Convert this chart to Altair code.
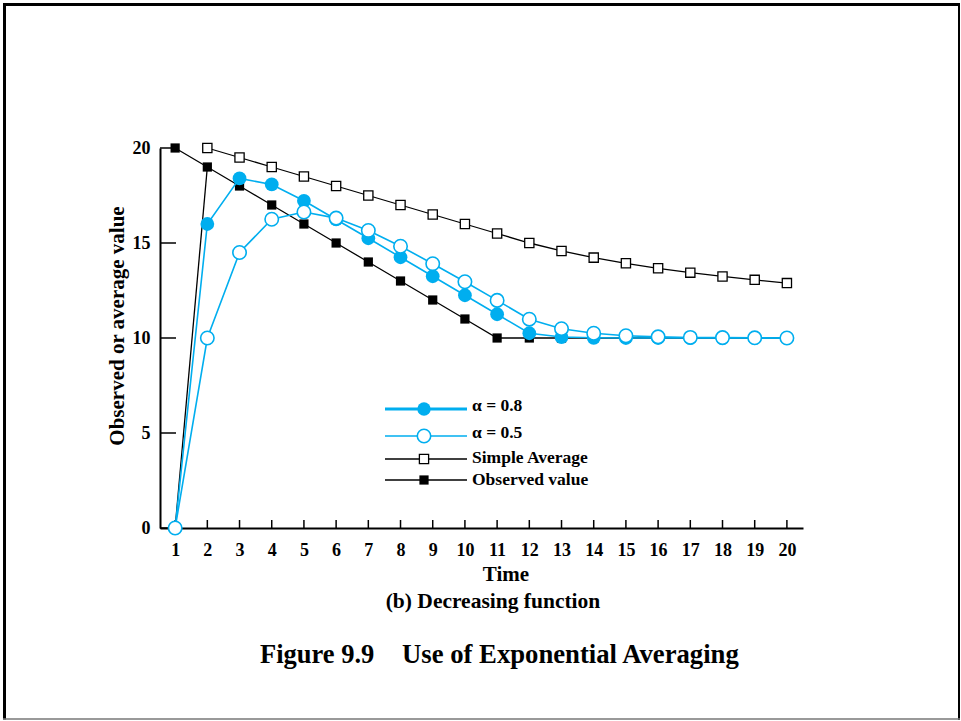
import altair as alt
import pandas as pd

# ---- data -------------------------------------------------------------
time = list(range(1, 21))
observed = [20, 19, 18, 17, 16, 15, 14, 13, 12, 11, 10, 10, 10, 10, 10, 10, 10, 10, 10, 10]
simple_time = list(range(2, 21))
simple_avg = [20.0, 19.5, 19.0, 18.5, 18.0, 17.5, 17.0, 16.5, 16.0, 15.5, 15.0,
              14.58, 14.23, 13.93, 13.67, 13.44, 13.24, 13.06, 12.89]
exp_08 = [0, 16.0, 18.4, 18.08, 17.22, 16.24, 15.25, 14.25, 13.25, 12.25, 11.25,
          10.25, 10.05, 10.01, 10.0, 10.0, 10.0, 10.0, 10.0, 10.0]
exp_05 = [0, 10.0, 14.5, 16.25, 16.63, 16.31, 15.66, 14.83, 13.91, 12.96, 11.98,
          10.99, 10.49, 10.25, 10.12, 10.06, 10.03, 10.02, 10.01, 10.0]
start_time = [1, 2]
start_value = [0, 19]

x_ticks = list(range(1, 21))
y_ticks = [0, 5, 10, 15, 20]
legend_labels = ["α = 0.8", "α = 0.5", "Simple Average", "Observed value"]

BLUE = "#00AEEF"
FONT = "Liberation Serif"
W, H = 643, 380

obs_df = pd.DataFrame({"t": time, "v": observed})
simple_df = pd.DataFrame({"t": simple_time, "v": simple_avg})
e8_df = pd.DataFrame({"t": time, "v": exp_08})
e5_df = pd.DataFrame({"t": time, "v": exp_05})
start_df = pd.DataFrame({"t": start_time, "v": start_value})

xs = alt.Scale(domain=[0.53, 20.5], nice=False, zero=False)
ys = alt.Scale(domain=[0, 20], nice=False)

X = alt.X("t:Q", scale=xs,
          axis=alt.Axis(values=x_ticks, format="d", title=None, grid=False,
                        ticks=False, domainWidth=2, domainColor="black",
                        labelOverlap=False,
                        labelFont=FONT, labelFontWeight="bold", labelFontSize=18,
                        labelColor="black", labelPadding=13))
Y = alt.Y("v:Q", scale=ys,
          axis=alt.Axis(values=y_ticks, format="d", title=None, grid=False,
                        ticks=False, domainWidth=2, domainColor="black",
                        labelOverlap=False,
                        labelFont=FONT, labelFontWeight="bold", labelFontSize=18,
                        labelColor="black", labelPadding=10))


def series(df, color, width, shape, size, filled, stroke_w=1.5):
    line = alt.Chart(df).mark_line(color=color, strokeWidth=width).encode(x=X, y=Y)
    if filled:
        pts = alt.Chart(df).mark_point(shape=shape, size=size, filled=True,
                                       color=color, opacity=1).encode(x=X, y=Y)
    else:
        pts = alt.Chart(df).mark_point(shape=shape, size=size, filled=False,
                                       fill="white", fillOpacity=1, stroke=color,
                                       strokeWidth=stroke_w, opacity=1).encode(x=X, y=Y)
    return line + pts


observed_layer = series(obs_df, "black", 1.3, "square", 85, True)
start_layer = alt.Chart(start_df).mark_line(color="black", strokeWidth=1.3).encode(x=X, y=Y)
simple_layer = series(simple_df, "black", 1.3, "square", 85, False, 1.3)
e8_layer = series(e8_df, BLUE, 1.6, "circle", 190, True)
e5_layer = series(e5_df, BLUE, 1.6, "circle", 180, False, 1.6)

# inward tick marks on both axes
xtick_layer = alt.Chart(pd.DataFrame({"t": x_ticks})).mark_rule(
    color="black", strokeWidth=1.5).encode(x=X, y=alt.value(H - 8), y2=alt.value(H))
ytick_layer = alt.Chart(pd.DataFrame({"v": y_ticks})).mark_rule(
    color="black", strokeWidth=1.5).encode(y=Y, x=alt.value(0), x2=alt.value(16))

# ---- legend drawn as small line + marker samples ----------------------
blank = pd.DataFrame({"k": [0]})


def legend_row(row_y, text_y, label, color, width, shape, size, filled, stroke_w=1.5):
    line = alt.Chart(blank).mark_rule(color=color, strokeWidth=width).encode(
        x=alt.value(225), x2=alt.value(307), y=alt.value(row_y))
    if filled:
        pt = alt.Chart(blank).mark_point(shape=shape, size=size, filled=True,
                                         color=color, opacity=1)
    else:
        pt = alt.Chart(blank).mark_point(shape=shape, size=size, filled=False,
                                         fill="white", fillOpacity=1, stroke=color,
                                         strokeWidth=stroke_w, opacity=1)
    pt = pt.encode(x=alt.value(264), y=alt.value(row_y))
    txt = alt.Chart(blank).mark_text(text=label, font=FONT, fontWeight="bold",
                                     fontSize=17.5, align="left", baseline="middle",
                                     color="black").encode(x=alt.value(312), y=alt.value(text_y))
    return line + pt + txt


leg1 = legend_row(261, 258, legend_labels[0], BLUE, 3, "circle", 180, True)
leg2 = legend_row(288, 285, legend_labels[1], BLUE, 1.6, "circle", 180, False, 1.6)
leg3 = legend_row(311, 310, legend_labels[2], "black", 1.3, "square", 85, False, 1.3)
leg4 = legend_row(332, 332, legend_labels[3], "black", 1.3, "square", 85, True)

# ---- titles -------------------------------------------------------------
def label(text, x, y, size, align="center", angle=0):
    mk = alt.Chart(blank).mark_text(text=text, font=FONT, fontWeight="bold",
                                    fontSize=size, align=align, baseline="middle",
                                    color="black", angle=angle)
    return mk.encode(x=alt.value(x), y=alt.value(y))


y_title = label("Observed or average value", -42, 178, 21, angle=270)
x_title = label("Time", 346, 427, 21)
sub_title = label("(b) Decreasing function", 333, 454, 21.5)
fig_a = label("Figure 9.9", 100, 507, 26.5, align="left")
fig_b = label("Use of Exponential Averaging", 242, 507, 26.7, align="left")

# ---- page frame -----------------------------------------------------------
frame_left = alt.Chart(blank).mark_rule(color="black", strokeWidth=3).encode(
    x=alt.value(-155.5), y=alt.value(-144), y2=alt.value(571.5))
frame_top = alt.Chart(blank).mark_rule(color="black", strokeWidth=3).encode(
    x=alt.value(-157), x2=alt.value(800), y=alt.value(-143.5))
frame_right = alt.Chart(blank).mark_rule(color="black", strokeWidth=2).encode(
    x=alt.value(799), y=alt.value(-145), y2=alt.value(572))
frame_bottom = alt.Chart(blank).mark_rule(color="#777777", strokeWidth=1.5).encode(
    x=alt.value(-157), x2=alt.value(800), y=alt.value(571))

chart = alt.layer(
    frame_left, frame_top, frame_right, frame_bottom,
    xtick_layer, ytick_layer,
    observed_layer, start_layer, simple_layer, e8_layer, e5_layer,
    leg1, leg2, leg3, leg4,
    y_title, x_title, sub_title, fig_a, fig_b,
).properties(
    width=W, height=H,
    autosize=alt.AutoSizeParams(type="none"),
    padding={"left": 160, "top": 148, "right": 158, "bottom": 193},
    background="white",
).configure_view(stroke=None).configure_axis(labelOverlap=False)

chart.save("out.html", embed_options={"renderer": "svg", "actions": False})
